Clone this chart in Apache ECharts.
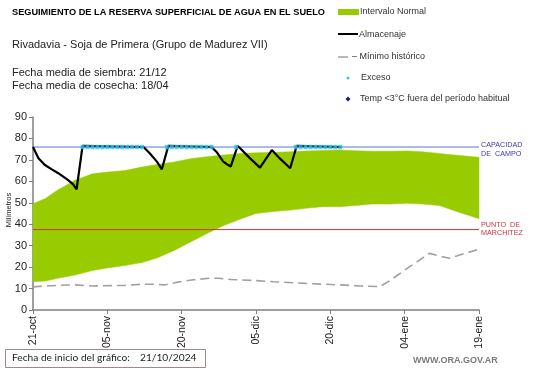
<!DOCTYPE html>
<html><head><meta charset="utf-8">
<script src="https://cdn.jsdelivr.net/npm/echarts@6/dist/echarts.min.js"></script>
<style>html,body{margin:0;padding:0;background:#fff}#c{width:541px;height:368px}</style>
</head><body><div id="c"></div>
<script>
// ---- data ----
var tickLabels = ['21-oct','05-nov','20-nov','05-dic','20-dic','04-ene','19-ene'];
var bandDays  = [0,2.5,5,8.5,12,15,18.5,22,25,28.5,32,35.5,38.5,42,45,48.5,52,55,58.5,62,65,68.5,72,75.5,78.5,82,85.5,90];
var bandLow   = [13.2,13.5,14.8,16.3,18.4,19.6,20.7,22.1,24.2,27.8,31.9,36.1,39.4,42.5,45,45.9,46.6,47.4,48.2,48.2,48.7,49.4,49.4,49.8,49.4,48.7,45.9,42.6];
var bandHigh  = [49.5,52,56,60.5,63.5,64.3,65,66.7,67.8,69,70.6,71.6,72.3,73,73.3,73.5,73.8,74.1,74.4,74.6,74.3,74.0,74.0,74.2,73.8,73.0,72.2,71.2];
var minDays   = [0,5,8.5,12,18.5,22,25,26.5,29,32,35.5,37.5,40,45,48.5,55,62,66,70,72,75.5,80,84,90];
var minVals   = [10.8,11.5,11.7,11.2,11.5,12,12,11.7,12.9,14,14.8,14.8,14.2,13.7,13.2,12.4,11.7,11.2,10.9,13.7,19.4,26.4,24.1,28.4];
var almDays   = [0,1.1,2.4,3.8,5.1,7.1,8.1,8.8,10,22.3,23.6,25,26,27.3,36,37,38.4,39.4,39.9,41.3,41.8,43.8,45.8,48.2,49.8,51.9,53.2,62.3];
var almVals   = [76,70.8,67.6,65.6,63.8,60.6,58.6,56.3,76.5,76,73,69.2,65.6,76.5,76,73.8,69.2,67.6,66.9,76.5,75.4,70.7,66.4,74.6,70.7,66.1,76.5,76];
var excesoDays = [10,11,12,13,14,15,16,17,18,19,20,21,22,27,28,29,30,31,32,33,34,35,36,41,53,54,55,56,57,58,59,60,61,62];
var excesoVal = 76;
var capacidadCampo = 76;
var puntoMarchitez = 37.5;
var xStart = 0, xEnd = 90;

function pairs(xs, ys){ return xs.map(function(x,i){ return [x, ys[i]]; }); }

var FONT = 'Liberation Sans, Arial, sans-serif';
var chart = echarts.init(document.getElementById('c'), null, {renderer:'canvas'});

function renderBand(params, api){
  if (params.dataIndex !== 0) return null;
  var top = [], bot = [];
  for (var i = 0; i < bandDays.length; i++){
    top.push(api.coord([bandDays[i], bandHigh[i]]));
    bot.unshift(api.coord([bandDays[i], bandLow[i]]));
  }
  return {type:'polygon', shape:{points:top.concat(bot)}, style:{fill:'#99cc00', stroke:'#99cc00', lineWidth:0.5}};
}

var opt = {
  animation:false,
  backgroundColor:'#fff',
  grid:{left:33, right:62, top:117, bottom:58, outerBoundsMode:'none', containLabel:false},
  xAxis:{type:'value', min:0, max:90, interval:15,
    axisLine:{lineStyle:{color:'#7f7f7f', width:1.5}},
    axisTick:{show:true, length:4, lineStyle:{color:'#7f7f7f'}},
    splitLine:{show:false},
    axisLabel:{rotate:90, fontFamily:FONT, fontSize:10.5, color:'#222', margin:6,
      formatter:function(v){ return tickLabels[Math.round(v/15)] || ''; }}
  },
  yAxis:{type:'value', min:0, max:90, interval:10,
    axisLine:{show:true, lineStyle:{color:'#7f7f7f', width:1.5}},
    axisTick:{show:true, length:4, lineStyle:{color:'#7f7f7f'}},
    splitLine:{show:false},
    axisLabel:{fontFamily:FONT, fontSize:11, color:'#222', margin:6}
  },
  series:[
    {type:'custom', renderItem:renderBand, data:bandDays.map(function(d,i){return [d, bandLow[i], bandHigh[i]];}),
      encode:{x:0, y:[1,2]}, silent:true, z:1},
    {type:'line', data:pairs(minDays, minVals), symbol:'none',
      lineStyle:{color:'#a0a0a0', width:1.6, type:[9,5]}, z:3},
    {type:'line', data:[[xStart, capacidadCampo],[xEnd, capacidadCampo]], symbol:'none', z:3,
      lineStyle:{color:'#5577d4', width:1}},
    {type:'line', data:[[xStart, puntoMarchitez],[xEnd, puntoMarchitez]], symbol:'none', z:3,
      lineStyle:{color:'#d8302a', width:1}},
    {type:'line', data:pairs(almDays, almVals), symbol:'none',
      lineStyle:{color:'#000', width:2.2}, z:5},
    {type:'scatter', data:excesoDays.map(function(d){return [d, excesoVal];}),
      symbol:'rect', symbolSize:[4,4.5], itemStyle:{color:'#35c4ee'}, z:6}
  ],
  graphic:[
    {type:'text', left:12, top:8, style:{text:'SEGUIMIENTO DE LA RESERVA SUPERFICIAL DE AGUA EN EL SUELO', font:'bold 9.2px '+FONT, fill:'#000'}},
    {type:'text', left:12, top:39, style:{text:'Rivadavia - Soja de Primera (Grupo de Madurez VII)', font:'11px '+FONT, fill:'#222'}},
    {type:'text', left:12, top:67, style:{text:'Fecha media de siembra: 21/12', font:'11px '+FONT, fill:'#222'}},
    {type:'text', left:12, top:80, style:{text:'Fecha media de cosecha: 18/04', font:'11px '+FONT, fill:'#222'}},
    {type:'text', x:9, y:210, rotation:Math.PI/2, style:{text:'Milímetros', font:'7.5px '+FONT, fill:'#222', align:'center', verticalAlign:'middle'}},
    // legend
    {type:'rect', shape:{x:338, y:9, width:21, height:6}, style:{fill:'#99cc00'}},
    {type:'text', left:360, top:7, style:{text:'Intervalo Normal', font:'9px '+FONT, fill:'#333'}},
    {type:'line', shape:{x1:338, y1:34, x2:358, y2:34}, style:{stroke:'#000', lineWidth:2}},
    {type:'text', left:359, top:30, style:{text:'Almacenaje', font:'9px '+FONT, fill:'#333'}},
    {type:'line', shape:{x1:338, y1:57, x2:348, y2:57}, style:{stroke:'#a0a0a0', lineWidth:1.5}},
    {type:'text', left:352, top:52, style:{text:'– Mínimo histórico', font:'9px '+FONT, fill:'#333'}},
    {type:'circle', shape:{cx:348, cy:78, r:1.5}, style:{fill:'#35c4ee'}},
    {type:'text', left:361, top:73, style:{text:'Exceso', font:'9px '+FONT, fill:'#333'}},
    {type:'polygon', shape:{points:[[348,96.5],[350.5,99],[348,101.5],[345.5,99]]}, style:{fill:'#1a1a8c'}},
    {type:'text', left:360, top:94, style:{text:'Temp <3°C fuera del período habitual', font:'9px '+FONT, fill:'#333'}},
    // right labels
    {type:'text', left:481, top:142, style:{text:'CAPACIDAD', font:'7.2px '+FONT, fill:'#3b3bb0'}},
    {type:'text', left:481, top:151, style:{text:'DE  CAMPO', font:'7.2px '+FONT, fill:'#3b3bb0'}},
    {type:'text', left:481, top:222, style:{text:'PUNTO  DE', font:'7.2px '+FONT, fill:'#cc3344'}},
    {type:'text', left:481, top:230, style:{text:'MARCHITEZ', font:'7.2px '+FONT, fill:'#cc3344'}},
    // bottom box
    {type:'rect', shape:{x:5.5, y:349.5, width:200, height:18}, style:{fill:'none', stroke:'#a08888', lineWidth:1}},
    {type:'text', left:12, top:352.5, style:{text:'Fecha de inicio del gráfico:', font:'10.2px Lato, '+FONT, fill:'#222'}},
    {type:'text', left:140, top:352.5, style:{text:'21/10/2024', font:'10.2px Lato, '+FONT, fill:'#222'}},
    {type:'text', left:413, top:356, style:{text:'WWW.ORA.GOV.AR', font:'bold 9px '+FONT, fill:'#7a7a7a'}}
  ]
};
chart.setOption(opt);
</script>
</body></html>
